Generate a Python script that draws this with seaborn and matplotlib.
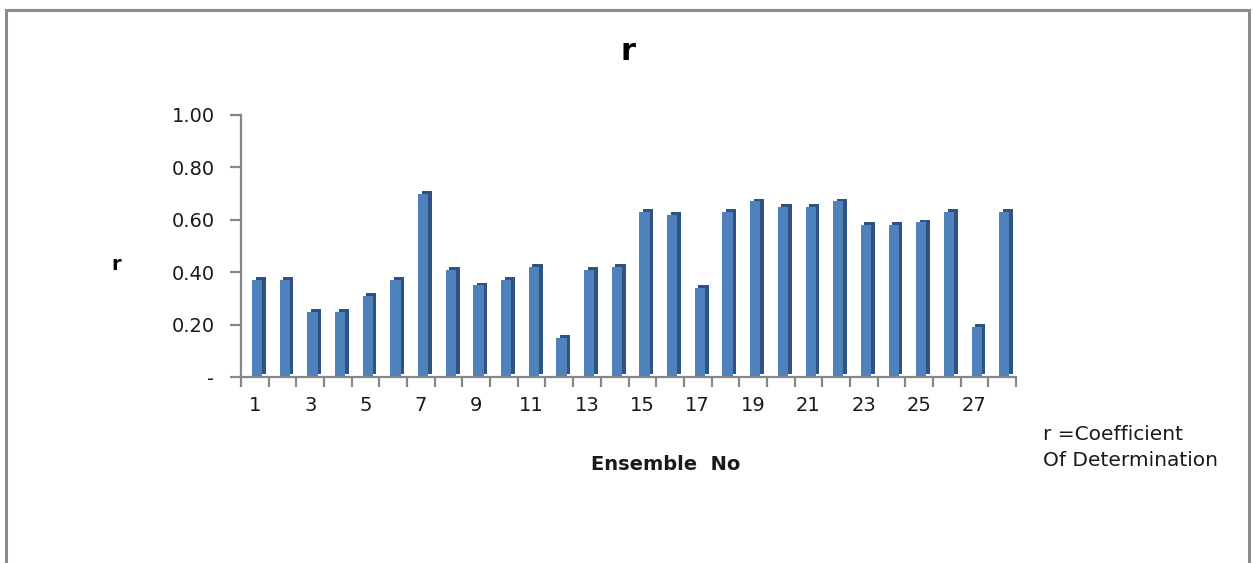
import matplotlib
matplotlib.use("Agg")
import matplotlib.pyplot as plt
import matplotlib.patheffects as pe
from matplotlib.patches import Rectangle
import seaborn as sns
import pandas as pd
import numpy as np

# ---- data ----
ensemble_no = list(range(1, 29))
r_values = [0.37, 0.37, 0.25, 0.25, 0.31, 0.37, 0.70, 0.41, 0.35, 0.37,
            0.42, 0.15, 0.41, 0.42, 0.63, 0.62, 0.34, 0.63, 0.67, 0.65,
            0.65, 0.67, 0.58, 0.58, 0.59, 0.63, 0.19, 0.63]
xtick_labels = [str(n) for n in ensemble_no if n % 2 == 1]
ytick_values = [0.0, 0.2, 0.4, 0.6, 0.8, 1.0]
ytick_labels = ["-", "0.20", "0.40", "0.60", "0.80", "1.00"]

df = pd.DataFrame({"ens": [str(n) for n in ensemble_no], "r": r_values})

sns.set_theme(style="white")
plt.rcParams["font.family"] = ["DejaVu Sans"]

W, H = 1254, 563
fig = plt.figure(figsize=(W / 100, H / 100), dpi=100)
ax = fig.add_axes([241 / W, (H - 377) / H, 775 / W, 262 / H])

bar_color = "#4F81BD"
side_color = "#2F5380"
sns.barplot(data=df, x="ens", y="r", color=bar_color, width=0.37,
            saturation=1, ax=ax, linewidth=0)
for p in ax.patches:
    p.set_x(p.get_x() + 0.08)
    p.set_path_effects([pe.SimplePatchShadow(offset=(2.6, 2.0),
                                             shadow_rgbFace=side_color,
                                             alpha=1.0),
                        pe.Normal()])

ax.set_xlim(-0.5, len(ensemble_no) - 0.5)
ax.set_ylim(0, 1.0)

grey = "#878787"
for s in ["top", "right"]:
    ax.spines[s].set_visible(False)
for s in ["left", "bottom"]:
    ax.spines[s].set_color(grey)
    ax.spines[s].set_linewidth(1.6)

# y ticks
ax.set_yticks(ytick_values)
ax.set_yticklabels(ytick_labels)
ax.tick_params(axis="y", direction="out", length=8, width=1.6, color=grey,
               pad=11, labelsize=14, labelcolor="#1a1a1a", left=True)

# x ticks: labels on odd ensemble numbers, tick marks on category boundaries
major_pos = [i for i, n in enumerate(ensemble_no) if n % 2 == 1]
ax.set_xticks(major_pos)
ax.set_xticklabels(xtick_labels)
ax.set_xticks(np.arange(-0.5, len(ensemble_no), 1.0), minor=True)
ax.tick_params(axis="x", which="major", length=0, pad=14, labelsize=14,
               labelcolor="#1a1a1a")
ax.tick_params(axis="x", which="minor", direction="out", length=7, width=1.6,
               color=grey, bottom=True)

ax.set_xlabel("")
ax.set_ylabel("")

# titles and labels
fig.text(628 / W, 1 - 52 / H, "r", ha="center", va="center",
         fontsize=22, fontweight="bold", color="black")
fig.text(116 / W, 1 - 264 / H, "r", ha="center", va="center",
         fontsize=14, fontweight="bold", color="black")
fig.text(666 / W, 1 - 464 / H, "Ensemble  No", ha="center", va="center",
         fontsize=14, fontweight="bold", color="#1a1a1a")
fig.text(1043 / W, 1 - 435 / H, "r =Coefficient", ha="left", va="center",
         fontsize=14.5, color="#1a1a1a")
fig.text(1043 / W, 1 - 460 / H, "Of Determination", ha="left", va="center",
         fontsize=14.5, color="#1a1a1a")

# chart-area border
fig.patches.append(Rectangle((6 / W, -0.05), (1249 - 6) / W, (H - 10) / H + 0.05,
                             transform=fig.transFigure, fill=False,
                             edgecolor="#8C8C8C", linewidth=2.2))

fig.savefig("out.png", dpi=100, facecolor="white")
